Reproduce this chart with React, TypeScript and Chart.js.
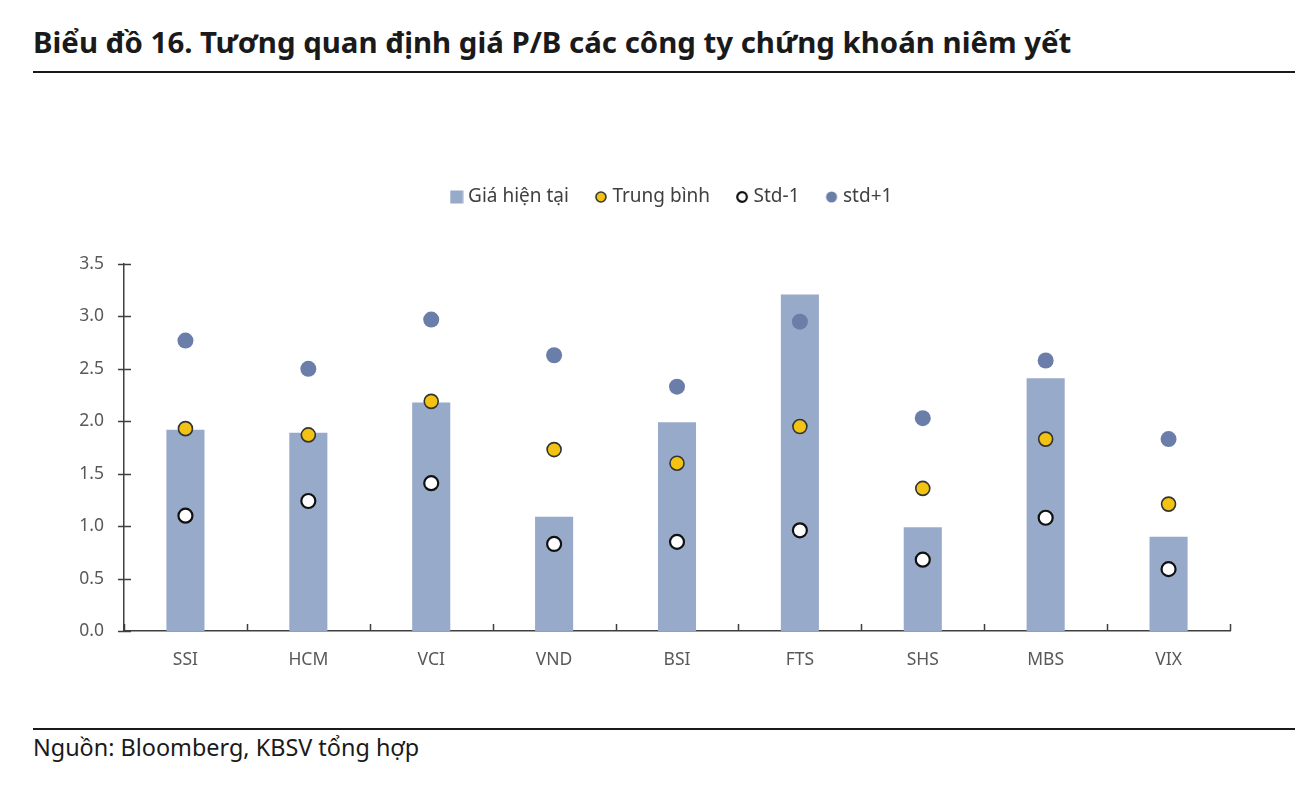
import React, { useEffect, useRef } from "react";
import { Chart, registerables } from "chart.js";

Chart.register(...registerables);

const categories = ["SSI", "HCM", "VCI", "VND", "BSI", "FTS", "SHS", "MBS", "VIX"];
const currentPB = [1.92, 1.89, 2.18, 1.09, 1.99, 3.21, 0.99, 2.41, 0.9];
const meanPB = [1.93, 1.87, 2.19, 1.73, 1.6, 1.95, 1.36, 1.83, 1.21];
const stdMinus = [1.1, 1.24, 1.41, 0.83, 0.85, 0.96, 0.68, 1.08, 0.59];
const stdPlus = [2.77, 2.5, 2.97, 2.63, 2.33, 2.95, 2.03, 2.58, 1.83];
const yTicks = [0, 0.5, 1, 1.5, 2, 2.5, 3, 3.5];

const seriesNames = ["Giá hiện tại", "Trung bình", "Std-1", "std+1"];

const BAR = "#98aac9";
const YELLOW = "#f3c313";
const BLUE = "#6b7ea9";
const AXIS = "#3f3f3f";
const FONT = "'Noto Sans', 'DejaVu Sans', sans-serif";

function makeMarker(kind: string): HTMLCanvasElement {
  const c = document.createElement("canvas");
  const s = 14;
  c.width = s;
  c.height = s;
  const g = c.getContext("2d")!;
  if (kind === "rect") {
    g.fillStyle = BAR;
    g.fillRect(0.5, 0.5, 13, 13);
  } else if (kind === "yellow") {
    g.beginPath();
    g.arc(7, 7, 5, 0, Math.PI * 2);
    g.fillStyle = YELLOW;
    g.fill();
    g.lineWidth = 1.6;
    g.strokeStyle = "#333";
    g.stroke();
  } else if (kind === "white") {
    g.beginPath();
    g.arc(7, 7, 4.8, 0, Math.PI * 2);
    g.fillStyle = "#fff";
    g.fill();
    g.lineWidth = 2.2;
    g.strokeStyle = "#111";
    g.stroke();
  } else {
    g.beginPath();
    g.arc(7, 7, 5.5, 0, Math.PI * 2);
    g.fillStyle = BLUE;
    g.fill();
  }
  return c;
}

const legendShift = {
  id: "legendShift",
  afterLayout(chart: any) {
    const lg = chart.legend;
    if (lg) {
      lg.left += 58.5;
      lg.right += 58.5;
    }
  },
};

const axisTicks = {
  id: "axisTicks",
  afterDraw(chart: any) {
    const { ctx, chartArea, scales } = chart;
    const y = scales.y;
    const x = scales.x;
    ctx.save();
    ctx.strokeStyle = AXIS;
    ctx.lineWidth = 1.5;
    y.ticks.forEach((_t: any, i: number) => {
      const py = Math.round(y.getPixelForTick(i)) + 0.5;
      ctx.beginPath();
      ctx.moveTo(chartArea.left - 6, py);
      ctx.lineTo(chartArea.left + 7, py);
      ctx.stroke();
    });
    const n = categories.length;
    for (let i = 0; i <= n; i++) {
      const px = Math.round(x.getPixelForValue(i - 0.5)) + 0.5;
      ctx.beginPath();
      ctx.moveTo(px, chartArea.bottom);
      ctx.lineTo(px, chartArea.bottom - 7);
      ctx.stroke();
    }
    ctx.restore();
  },
};

function PBChart() {
  const ref = useRef<HTMLCanvasElement | null>(null);
  useEffect(() => {
    if (!ref.current) return;
    const markers = [makeMarker("rect"), makeMarker("yellow"), makeMarker("white"), makeMarker("blue")];
    const chart = new Chart(ref.current, {
      type: "bar",
      data: {
        labels: categories,
        datasets: [
          {
            type: "bar",
            label: seriesNames[0],
            data: currentPB,
            backgroundColor: BAR,
            borderWidth: 0,
            barPercentage: 0.31,
            categoryPercentage: 1,
            order: 5,
          },
          {
            type: "line",
            label: seriesNames[1],
            data: meanPB,
            showLine: false,
            pointRadius: 7,
            pointBackgroundColor: YELLOW,
            pointBorderColor: "#333",
            pointBorderWidth: 1.6,
            order: 3,
          },
          {
            type: "line",
            label: seriesNames[2],
            data: stdMinus,
            showLine: false,
            pointRadius: 7,
            pointBackgroundColor: "#fff",
            pointBorderColor: "#111",
            pointBorderWidth: 2.2,
            order: 2,
          },
          {
            type: "line",
            label: seriesNames[3],
            data: stdPlus,
            showLine: false,
            pointRadius: 8,
            pointBackgroundColor: BLUE,
            pointBorderWidth: 0,
            order: 1,
          },
        ] as any,
      },
      options: {
        animation: false,
        responsive: false,
        maintainAspectRatio: false,
        layout: { padding: { left: 0, right: 84, top: 7.5, bottom: 0 } },
        plugins: {
          tooltip: { enabled: false },
          legend: {
            position: "top",
            align: "center",
            labels: {
              usePointStyle: true,
              boxWidth: 4,
              boxHeight: 9,
              padding: 30,
              color: "#404040",
              font: { family: FONT, size: 19 },
              sort: (a: any, b: any) => a.datasetIndex - b.datasetIndex,
              generateLabels(ch: any) {
                const items = (Chart.defaults.plugins.legend.labels as any).generateLabels(ch);
                return items.map((it: any) => ({ ...it, pointStyle: markers[it.datasetIndex] }));
              },
            },
          },
        },
        scales: {
          x: {
            type: "category",
            position: "bottom",
            grid: { display: false, drawTicks: false },
            border: { display: true, color: AXIS, width: 1.5 },
            ticks: { color: "#595959", font: { family: FONT, size: 17.5 }, padding: 19 },
            afterFit(s: any) {
              s.height = 59;
            },
          },
          xTop: {
            type: "category",
            position: "top",
            display: true,
            grid: { display: false, drawTicks: false },
            border: { display: false },
            ticks: { display: false },
            afterFit(s: any) {
              s.height = 47.5;
            },
          },
          y: {
            min: 0,
            max: 3.5,
            afterBuildTicks(s: any) {
              s.ticks = yTicks.map((v) => ({ value: v }));
            },
            grid: { display: false, drawTicks: false },
            border: { display: true, color: AXIS, width: 1.5 },
            ticks: {
              color: "#595959",
              font: { family: FONT, size: 17.5 },
              padding: 20,
              callback: (v: any) => Number(v).toFixed(1),
            },
            afterFit(s: any) {
              s.width = 124;
            },
          },
        } as any,
      },
      plugins: [legendShift, axisTicks],
    });
    return () => chart.destroy();
  }, []);
  return (
    <canvas
      ref={ref}
      width={1314}
      height={540}
      style={{ position: "absolute", left: 0, top: 150, width: 1314, height: 540 }}
    />
  );
}

export default function App() {
  useEffect(() => {
    document.body.style.margin = "0";
  }, []);
  return (
    <div style={{ position: "relative", width: 1314, height: 796, background: "#fff", fontFamily: FONT, overflow: "hidden" }}>
      <div
        style={{
          position: "absolute",
          left: 33,
          top: 22,
          fontSize: 29.4,
          fontWeight: 700,
          color: "#1a1a1a",
          whiteSpace: "nowrap",
        }}
      >
        Biểu đồ 16. Tương quan định giá P/B các công ty chứng khoán niêm yết
      </div>
      <div style={{ position: "absolute", left: 33, top: 71, width: 1262, height: 2, background: "#1a1a1a" }} />
      <PBChart />
      <div style={{ position: "absolute", left: 33, top: 728, width: 1262, height: 2, background: "#1a1a1a" }} />
      <div
        style={{
          position: "absolute",
          left: 33,
          top: 731,
          fontSize: 23.4,
          color: "#1a1a1a",
          whiteSpace: "nowrap",
        }}
      >
        Nguồn: Bloomberg, KBSV tổng hợp
      </div>
    </div>
  );
}
